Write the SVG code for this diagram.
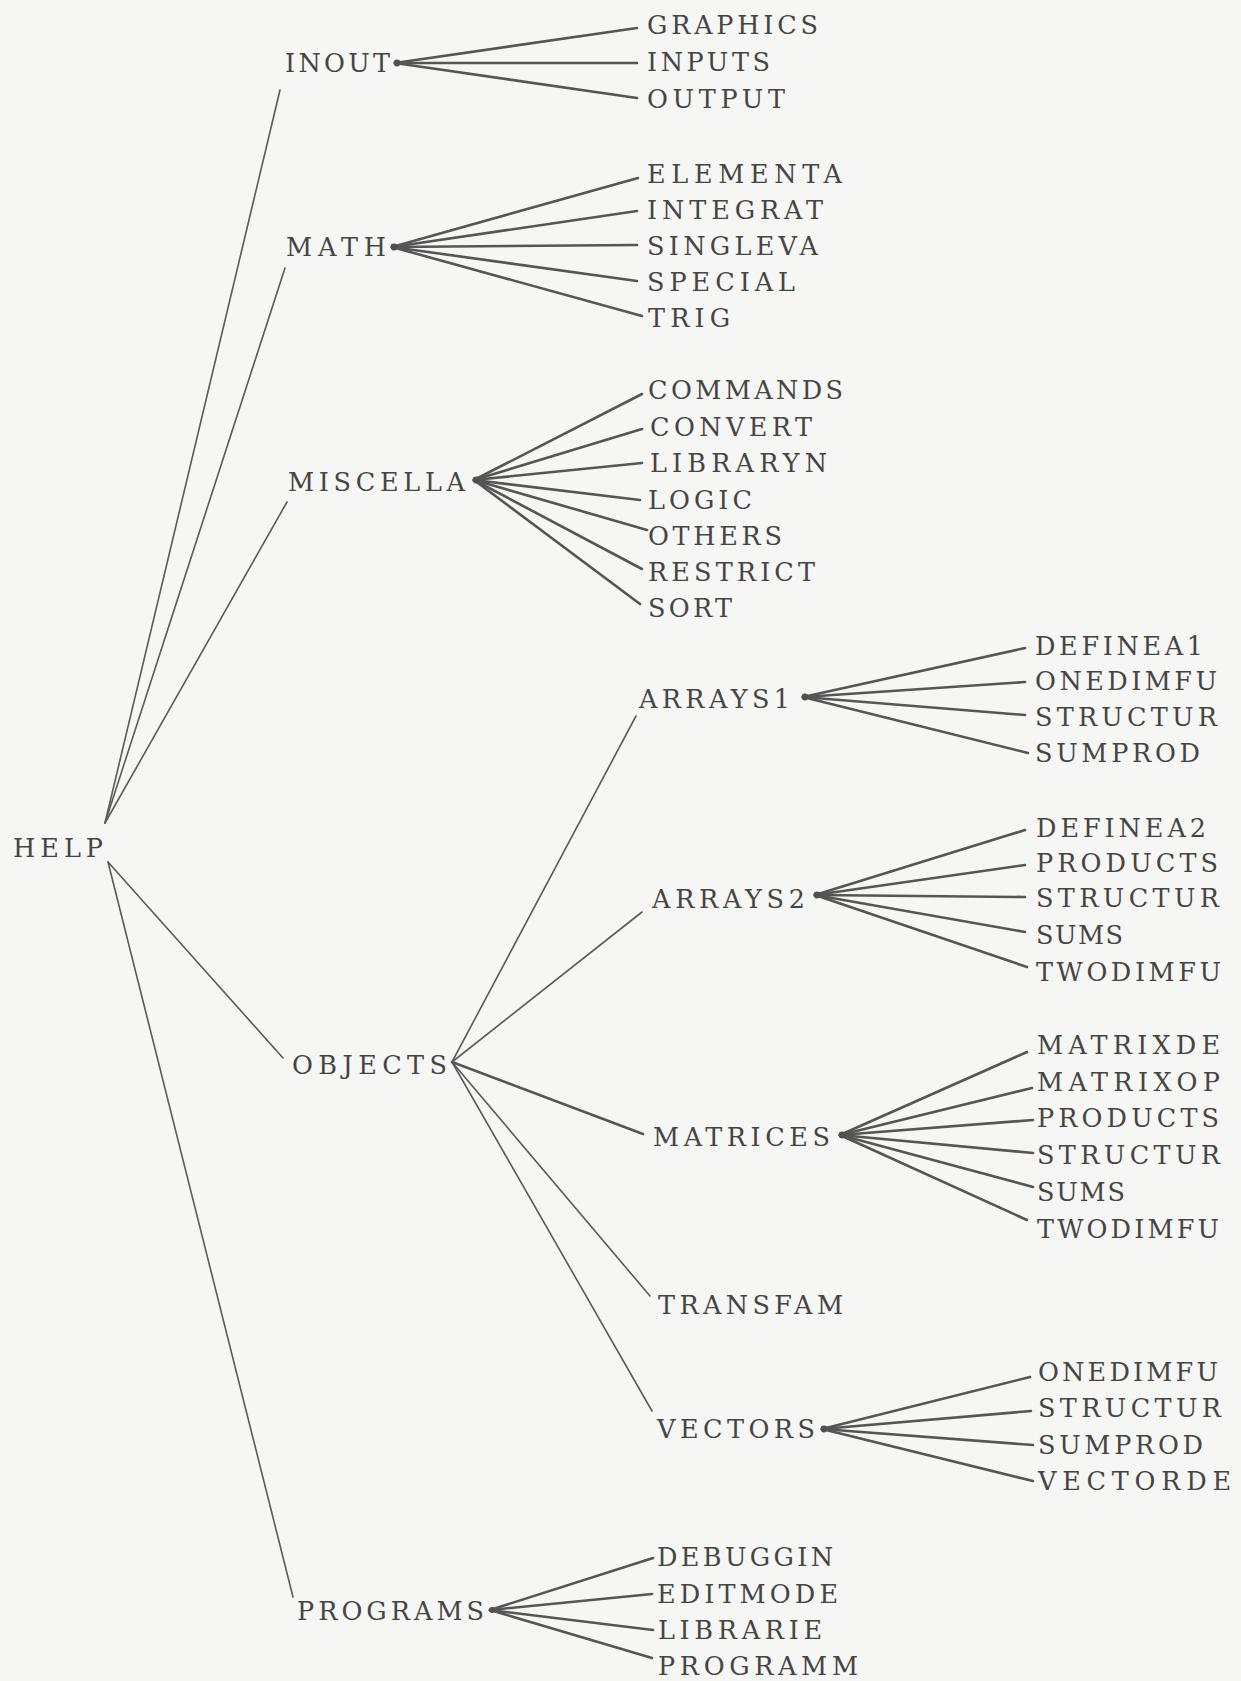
<svg xmlns="http://www.w3.org/2000/svg" width="1241" height="1681" viewBox="0 0 1241 1681">
<style>
.bg{fill:#f6f6f4}
text{font-family:"DejaVu Serif","Liberation Serif",serif;font-size:25.5px;fill:#454545}
.main{stroke:#5a5a5a;stroke-width:1.6;fill:none;stroke-linecap:round}
.fan{stroke:#555;stroke-width:2.6;fill:none;stroke-linecap:round}
.dot{fill:#505050}
</style>
<rect class="bg" x="0" y="0" width="1241" height="1681"/>
<g id="connectors">
<line class="main" x1="105" y1="823" x2="280" y2="90"/>
<line class="main" x1="105" y1="823" x2="285" y2="268"/>
<line class="main" x1="105" y1="823" x2="287" y2="502"/>
<line class="main" x1="108" y1="862" x2="283" y2="1058"/>
<line class="main" x1="108" y1="862" x2="293" y2="1597"/>
<line class="main" x1="452" y1="1062" x2="636" y2="716"/>
<line class="main" x1="452" y1="1062" x2="642" y2="912"/>
<line class="fan" x1="452" y1="1062" x2="643" y2="1134"/>
<line class="main" x1="452" y1="1062" x2="650" y2="1296"/>
<line class="main" x1="452" y1="1062" x2="652" y2="1411"/>
<g class="fan">
<line x1="395" y1="63" x2="637" y2="28"/><line x1="395" y1="63" x2="637" y2="63"/><line x1="395" y1="63" x2="637" y2="98"/>
<line x1="392" y1="247" x2="638" y2="178"/><line x1="392" y1="247" x2="637" y2="211"/><line x1="392" y1="247" x2="637" y2="245"/><line x1="392" y1="247" x2="637" y2="281"/><line x1="392" y1="247" x2="642" y2="316"/>
<line x1="474" y1="480" x2="642" y2="394"/><line x1="474" y1="480" x2="642" y2="429"/><line x1="474" y1="480" x2="642" y2="463"/><line x1="474" y1="480" x2="640" y2="500"/><line x1="474" y1="480" x2="647" y2="530"/><line x1="474" y1="480" x2="642" y2="569"/><line x1="474" y1="480" x2="640" y2="604"/>
<line x1="803" y1="697" x2="1025" y2="648"/><line x1="803" y1="697" x2="1025" y2="682"/><line x1="803" y1="697" x2="1025" y2="715"/><line x1="803" y1="697" x2="1028" y2="753"/>
<line x1="815" y1="895" x2="1025" y2="830"/><line x1="815" y1="895" x2="1025" y2="865"/><line x1="815" y1="895" x2="1025" y2="897"/><line x1="815" y1="895" x2="1025" y2="932"/><line x1="815" y1="895" x2="1027" y2="967"/>
<line x1="840" y1="1135" x2="1027" y2="1052"/><line x1="840" y1="1135" x2="1032" y2="1088"/><line x1="840" y1="1135" x2="1033" y2="1120"/><line x1="840" y1="1135" x2="1033" y2="1153"/><line x1="840" y1="1135" x2="1033" y2="1187"/><line x1="840" y1="1135" x2="1027" y2="1220"/>
<line x1="822" y1="1429" x2="1030" y2="1377"/><line x1="822" y1="1429" x2="1031" y2="1411"/><line x1="822" y1="1429" x2="1033" y2="1445"/><line x1="822" y1="1429" x2="1033" y2="1481"/>
<line x1="490" y1="1610" x2="653" y2="1558"/><line x1="490" y1="1610" x2="652" y2="1594"/><line x1="490" y1="1610" x2="653" y2="1630"/><line x1="490" y1="1610" x2="652" y2="1658"/>
</g>
<circle class="dot" cx="397" cy="63" r="3.4"/>
<circle class="dot" cx="394" cy="247" r="3.4"/>
<circle class="dot" cx="476" cy="480" r="3.4"/>
<circle class="dot" cx="805" cy="697" r="3.4"/>
<circle class="dot" cx="817" cy="895" r="3.4"/>
<circle class="dot" cx="842" cy="1135" r="3.4"/>
<circle class="dot" cx="824" cy="1429" r="3.4"/>
<circle class="dot" cx="492" cy="1610" r="3"/>
</g>
<g id="n-help"><text x="13" y="857" textLength="90" lengthAdjust="spacing">HELP</text></g>
<g id="n-inout"><text x="285" y="72" textLength="105" lengthAdjust="spacing">INOUT</text></g>
<g id="n-math"><text x="286" y="256" textLength="100" lengthAdjust="spacing">MATH</text></g>
<g id="n-miscella"><text x="288" y="491" textLength="177" lengthAdjust="spacing">MISCELLA</text></g>
<g id="n-objects"><text x="292" y="1074" textLength="155" lengthAdjust="spacing">OBJECTS</text></g>
<g id="n-programs"><text x="297" y="1620" textLength="187" lengthAdjust="spacing">PROGRAMS</text></g>
<g id="n-graphics"><text x="647" y="34" textLength="171" lengthAdjust="spacing">GRAPHICS</text></g>
<g id="n-inputs"><text x="647" y="71" textLength="123" lengthAdjust="spacing">INPUTS</text></g>
<g id="n-output"><text x="647" y="108" textLength="138" lengthAdjust="spacing">OUTPUT</text></g>
<g id="n-elementa"><text x="647" y="183" textLength="195" lengthAdjust="spacing">ELEMENTA</text></g>
<g id="n-integrat"><text x="647" y="219" textLength="176" lengthAdjust="spacing">INTEGRAT</text></g>
<g id="n-singleva"><text x="647" y="255" textLength="171" lengthAdjust="spacing">SINGLEVA</text></g>
<g id="n-special"><text x="647" y="291" textLength="148" lengthAdjust="spacing">SPECIAL</text></g>
<g id="n-trig"><text x="648" y="327" textLength="82" lengthAdjust="spacing">TRIG</text></g>
<g id="n-commands"><text x="648" y="399" textLength="195" lengthAdjust="spacing">COMMANDS</text></g>
<g id="n-convert"><text x="650" y="436" textLength="162" lengthAdjust="spacing">CONVERT</text></g>
<g id="n-libraryn"><text x="650" y="472" textLength="177" lengthAdjust="spacing">LIBRARYN</text></g>
<g id="n-logic"><text x="648" y="509" textLength="104" lengthAdjust="spacing">LOGIC</text></g>
<g id="n-others"><text x="648" y="545" textLength="134" lengthAdjust="spacing">OTHERS</text></g>
<g id="n-restrict"><text x="648" y="581" textLength="167" lengthAdjust="spacing">RESTRICT</text></g>
<g id="n-sort"><text x="648" y="617" textLength="84" lengthAdjust="spacing">SORT</text></g>
<g id="n-arrays1"><text x="639" y="708" textLength="151" lengthAdjust="spacing">ARRAYS1</text></g>
<g id="n-arrays2"><text x="652" y="908" textLength="153" lengthAdjust="spacing">ARRAYS2</text></g>
<g id="n-matrices"><text x="653" y="1146" textLength="177" lengthAdjust="spacing">MATRICES</text></g>
<g id="n-transfam"><text x="658" y="1314" textLength="185" lengthAdjust="spacing">TRANSFAM</text></g>
<g id="n-vectors"><text x="657" y="1438" textLength="158" lengthAdjust="spacing">VECTORS</text></g>
<g id="n-debuggin"><text x="657" y="1566" textLength="176" lengthAdjust="spacing">DEBUGGIN</text></g>
<g id="n-editmode"><text x="657" y="1603" textLength="181" lengthAdjust="spacing">EDITMODE</text></g>
<g id="n-librarie"><text x="658" y="1639" textLength="164" lengthAdjust="spacing">LIBRARIE</text></g>
<g id="n-programm"><text x="658" y="1675" textLength="200" lengthAdjust="spacing">PROGRAMM</text></g>
<g id="n-a1-definea1"><text x="1035" y="655" textLength="168" lengthAdjust="spacing">DEFINEA1</text></g>
<g id="n-a1-onedimfu"><text x="1035" y="690" textLength="182" lengthAdjust="spacing">ONEDIMFU</text></g>
<g id="n-a1-structur"><text x="1035" y="726" textLength="182" lengthAdjust="spacing">STRUCTUR</text></g>
<g id="n-a1-sumprod"><text x="1035" y="762" textLength="165" lengthAdjust="spacing">SUMPROD</text></g>
<g id="n-a2-definea2"><text x="1036" y="837" textLength="170" lengthAdjust="spacing">DEFINEA2</text></g>
<g id="n-a2-products"><text x="1036" y="872" textLength="182" lengthAdjust="spacing">PRODUCTS</text></g>
<g id="n-a2-structur"><text x="1036" y="907" textLength="183" lengthAdjust="spacing">STRUCTUR</text></g>
<g id="n-a2-sums"><text x="1036" y="944" textLength="87" lengthAdjust="spacing">SUMS</text></g>
<g id="n-a2-twodimfu"><text x="1036" y="981" textLength="185" lengthAdjust="spacing">TWODIMFU</text></g>
<g id="n-m-matrixde"><text x="1037" y="1054" textLength="183" lengthAdjust="spacing">MATRIXDE</text></g>
<g id="n-m-matrixop"><text x="1037" y="1091" textLength="183" lengthAdjust="spacing">MATRIXOP</text></g>
<g id="n-m-products"><text x="1037" y="1127" textLength="182" lengthAdjust="spacing">PRODUCTS</text></g>
<g id="n-m-structur"><text x="1037" y="1164" textLength="183" lengthAdjust="spacing">STRUCTUR</text></g>
<g id="n-m-sums"><text x="1037" y="1201" textLength="88" lengthAdjust="spacing">SUMS</text></g>
<g id="n-m-twodimfu"><text x="1037" y="1238" textLength="182" lengthAdjust="spacing">TWODIMFU</text></g>
<g id="n-v-onedimfu"><text x="1038" y="1381" textLength="180" lengthAdjust="spacing">ONEDIMFU</text></g>
<g id="n-v-structur"><text x="1038" y="1417" textLength="183" lengthAdjust="spacing">STRUCTUR</text></g>
<g id="n-v-sumprod"><text x="1038" y="1454" textLength="165" lengthAdjust="spacing">SUMPROD</text></g>
<g id="n-v-vectorde"><text x="1038" y="1490" textLength="193" lengthAdjust="spacing">VECTORDE</text></g>
</svg>
